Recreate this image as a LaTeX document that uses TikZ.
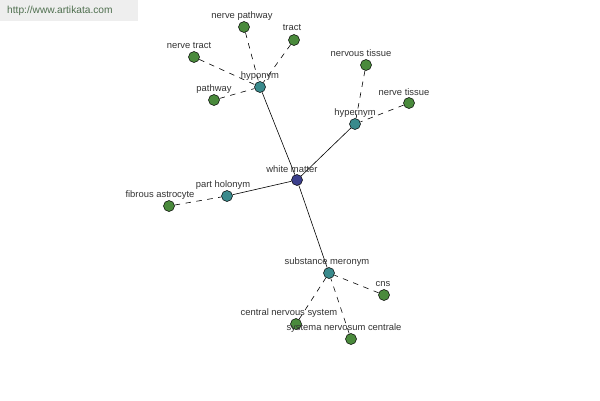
\documentclass[tikz,border=0pt]{standalone}
\usepackage{fontspec}
\setmainfont{Liberation Sans}
\definecolor{hubc}{HTML}{3B3F8C}
\definecolor{relc}{HTML}{3A8A8C}
\definecolor{leafc}{HTML}{4A8A3C}
\definecolor{txtc}{HTML}{333333}
\definecolor{wmbg}{HTML}{EEEEEE}
\definecolor{wmtxt}{HTML}{4F6F4F}
\tikzset{
  dot/.style={circle,draw=black,line width=0.5pt,minimum size=11pt,inner sep=0pt},
  hub/.style={dot,fill=hubc},
  rel/.style={dot,fill=relc},
  leaf/.style={dot,fill=leafc},
  lbl/.style={font=\fontsize{9.4}{11}\selectfont,text=txtc,inner sep=0pt},
  solidedge/.style={draw=black,line width=0.6pt},
  dashedge/.style={draw=black,line width=0.6pt,dash pattern=on 5.5pt off 5.5pt},
}
\begin{document}
\begin{tikzpicture}[x=1pt,y=-1pt]
\useasboundingbox (0,0) rectangle (600,400);
\fill[white] (0,0) rectangle (600,400);
\fill[wmbg] (0,0) rectangle (138,21);
\node[anchor=west,font=\fontsize{10.2}{12}\selectfont,text=wmtxt,inner sep=0pt] (wm) at (7,11) {http://www.artikata.com};

% nodes
\node[hub] (wmat) at (297,180) {};
\node[rel] (hypo) at (260,87) {};
\node[rel] (hyper) at (355,124) {};
\node[rel] (part) at (227,196) {};
\node[rel] (subst) at (329,273) {};
\node[leaf] (np) at (244,27) {};
\node[leaf] (tract) at (294,40) {};
\node[leaf] (nt) at (194,57) {};
\node[leaf] (pw) at (214,100) {};
\node[leaf] (nvt) at (366,65) {};
\node[leaf] (ntis) at (409,103) {};
\node[leaf] (fa) at (169,206) {};
\node[leaf] (cns) at (384,295) {};
\node[leaf] (cnsys) at (296,324) {};
\node[leaf] (snc) at (351,339) {};

% edges
\path[solidedge] (wmat) -- (hypo);
\path[solidedge] (wmat) -- (hyper);
\path[solidedge] (wmat) -- (part);
\path[solidedge] (wmat) -- (subst);
\path[dashedge] (np) -- (hypo);
\path[dashedge] (tract) -- (hypo);
\path[dashedge] (nt) -- (hypo);
\path[dashedge] (pw) -- (hypo);
\path[dashedge] (nvt) -- (hyper);
\path[dashedge] (ntis) -- (hyper);
\path[dashedge] (fa) -- (part);
\path[dashedge] (cns) -- (subst);
\path[dashedge] (cnsys) -- (subst);
\path[dashedge] (snc) -- (subst);

% labels
\node[lbl] (lwmat) at (292,169) {white matter};
\node[lbl] (lhypo) at (260,76) {hyponym};
\node[lbl] (lhyper) at (355,113) {hypernym};
\node[lbl] (lpart) at (223,185) {part holonym};
\node[lbl] (lsubst) at (327,262) {substance meronym};
\node[lbl] (lnp) at (242,16) {nerve pathway};
\node[lbl] (ltract) at (292,28) {tract};
\node[lbl] (lnt) at (189,46) {nerve tract};
\node[lbl] (lpw) at (214,89) {pathway};
\node[lbl] (lnvt) at (361,53) {nervous tissue};
\node[lbl] (lntis) at (404,92) {nerve tissue};
\node[lbl] (lfa) at (160,195) {fibrous astrocyte};
\node[lbl] (lcns) at (383,284) {cns};
\node[lbl] (lcnsys) at (289,313) {central nervous system};
\node[lbl] (lsnc) at (344,328) {systema nervosum centrale};
\end{tikzpicture}
\end{document}
